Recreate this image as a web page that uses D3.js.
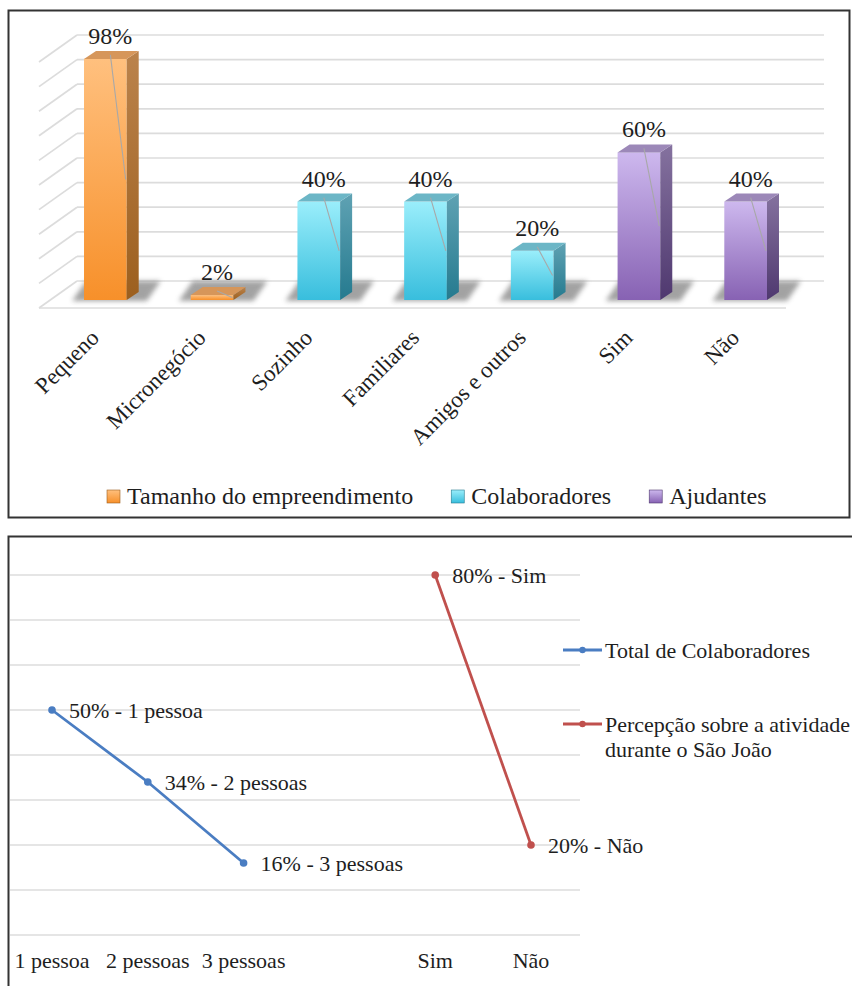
<!DOCTYPE html>
<html>
<head>
<meta charset="utf-8">
<script src="https://cdn.jsdelivr.net/npm/d3@7"></script>
<style>
body { margin: 0; background: #fff; }
svg { display: block; }
text { font-family: "Liberation Serif", "Times New Roman", "DejaVu Serif", serif; fill: #1e1e1e; }
</style>
</head>
<body>
<svg id="chart" width="852" height="986" font-family="Liberation Serif, Times New Roman, serif"></svg>
<script>

// ---- top chart data ----
var barCategories = ["Pequeno", "Micronegócio", "Sozinho", "Familiares", "Amigos e outros", "Sim", "Não"];
var barValues = [98, 2, 40, 40, 20, 60, 40];
var barSeriesOf = [0, 0, 1, 1, 1, 2, 2];
var barSeries = ["Tamanho do empreendimento", "Colaboradores", "Ajudantes"];
var barTicks = [0, 10, 20, 30, 40, 50, 60, 70, 80, 90, 100];

// ---- bottom chart data ----
var lineCategories = ["1 pessoa", "2 pessoas", "3 pessoas", " ", "Sim", "Não"];
var colabCats = ["1 pessoa", "2 pessoas", "3 pessoas"];
var colabValues = [50, 34, 16];
var colabLabels = ["50% - 1 pessoa", "34% - 2 pessoas", "16% - 3 pessoas"];
var percepCats = ["Sim", "Não"];
var percepValues = [80, 20];
var percepLabels = ["80% - Sim", "20% - Não"];
var lineSeries = ["Total de Colaboradores", "Percepção sobre a atividade|durante o São João"];
var lineTicks = [0, 10, 20, 30, 40, 50, 60, 70, 80];

var svg = d3.select("#chart");
var defs = svg.append("defs");

// colours per series: front top/bottom, side top/bottom, top face
var pal = [
  { ft: "#ffc07e", fb: "#f7902a", st: "#bb834c", sb: "#9c5f1e", tp: "#d6965a" },
  { ft: "#9aeefb", fb: "#38bedd", st: "#5fa2b3", sb: "#257a8f", tp: "#6cb6c6" },
  { ft: "#cdb8ee", fb: "#8762b3", st: "#85729f", sb: "#4f386f", tp: "#9c88b8" }
];

pal.forEach(function(p, i) {
  var g1 = defs.append("linearGradient").attr("id", "front" + i)
    .attr("x1", 0).attr("y1", 0).attr("x2", 0).attr("y2", 1);
  g1.append("stop").attr("offset", "0%").attr("stop-color", p.ft);
  g1.append("stop").attr("offset", "100%").attr("stop-color", p.fb);
  var g2 = defs.append("linearGradient").attr("id", "side" + i)
    .attr("x1", 0).attr("y1", 0).attr("x2", 0).attr("y2", 1);
  g2.append("stop").attr("offset", "0%").attr("stop-color", p.st);
  g2.append("stop").attr("offset", "100%").attr("stop-color", p.sb);
});

defs.append("filter").attr("id", "blur")
  .attr("x", "-30%").attr("y", "-60%").attr("width", "160%").attr("height", "220%")
  .append("feGaussianBlur").attr("stdDeviation", 2.5);

////
//// Top chart: 3D columns
////

var x = d3.scaleBand()
  .domain(barCategories)
  .range([52, 799])
  .paddingInner(0.6)
  .paddingOuter(0.3);

var y = d3.scaleLinear()
  .domain([0, 100])
  .range([300, 54]);

var depthX = 12, depthY = -8;      // bar depth
var wallFront = 8, wallBack = -19; // floor front / back wall relative to bar front
var wallLeftFront = 39, wallLeftBack = 77, wallRight = 824;

var topG = svg.append("g");

// back wall gridlines
topG.selectAll(".grid")
  .data(barTicks)
  .enter().append("line")
  .attr("x1", wallLeftBack)
  .attr("x2", wallRight)
  .attr("y1", function(d) { return y(d) + wallBack; })
  .attr("y2", function(d) { return y(d) + wallBack; })
  .attr("stroke", "#dcdcdc")
  .attr("stroke-width", 1.7);

// side wall diagonals
topG.selectAll(".diag")
  .data(barTicks)
  .enter().append("line")
  .attr("x1", wallLeftFront)
  .attr("x2", wallLeftBack)
  .attr("y1", function(d) { return y(d) + wallFront; })
  .attr("y2", function(d) { return y(d) + wallBack; })
  .attr("stroke", "#dcdcdc")
  .attr("stroke-width", 1.7);

// floor front edge
topG.append("line")
  .attr("x1", wallLeftFront)
  .attr("x2", wallRight - (wallLeftBack - wallLeftFront))
  .attr("y1", y(0) + wallFront)
  .attr("y2", y(0) + wallFront)
  .attr("stroke", "#dcdcdc")
  .attr("stroke-width", 1.7);

var bars = topG.selectAll(".bar")
  .data(barValues.map(function(v, i) { return { cat: barCategories[i], value: v, s: barSeriesOf[i] }; }))
  .enter().append("g");

// shadow on the floor
bars.append("polygon")
  .attr("points", function(d) {
    var x0 = x(d.cat), x1 = x0 + x.bandwidth(), b = y(0);
    return [[x0 - 12, b + 1], [x1 + 20, b + 1], [x1 + 34, b - 19], [x0 + 2, b - 19]].join(" ");
  })
  .attr("fill", "#7c7c7c")
  .attr("opacity", 0.7)
  .attr("filter", "url(#blur)");

// front face
bars.append("rect")
  .attr("x", function(d) { return x(d.cat); })
  .attr("y", function(d) { return y(d.value); })
  .attr("width", x.bandwidth())
  .attr("height", function(d) { return y(0) - y(d.value); })
  .attr("fill", function(d) { return "url(#front" + d.s + ")"; });

// side face
bars.append("polygon")
  .attr("points", function(d) {
    var x1 = x(d.cat) + x.bandwidth(), t = y(d.value), b = y(0);
    return [[x1, t], [x1 + depthX, t + depthY], [x1 + depthX, b + depthY], [x1, b]].join(" ");
  })
  .attr("fill", function(d) { return "url(#side" + d.s + ")"; });

// top face
bars.append("polygon")
  .attr("points", function(d) {
    var x0 = x(d.cat), x1 = x0 + x.bandwidth(), t = y(d.value);
    return [[x0, t], [x0 + depthX, t + depthY], [x1 + depthX, t + depthY], [x1, t]].join(" ");
  })
  .attr("fill", function(d) { return pal[d.s].tp; });

// thin label leader line across the bar
bars.append("line")
  .attr("x1", function(d) { return x(d.cat) + x.bandwidth() / 2 + 5; })
  .attr("y1", function(d) { return y(d.value) - 4; })
  .attr("x2", function(d) { return x(d.cat) + x.bandwidth() - 1; })
  .attr("y2", function(d) { return y(d.value) + (y(0) - y(d.value)) / 2; })
  .attr("stroke", "#a8a8a8")
  .attr("stroke-width", 1.1);

// value labels
bars.append("text")
  .attr("x", function(d) { return x(d.cat) + x.bandwidth() / 2 + 5; })
  .attr("y", function(d) { return y(d.value) - 15; })
  .attr("text-anchor", "middle")
  .attr("font-size", 24)
  .text(function(d) { return d.value + "%"; });

// rotated category labels
topG.selectAll(".xlab")
  .data(barCategories)
  .enter().append("text")
  .attr("transform", function(d) {
    return "translate(" + (x(d) + x.bandwidth() / 2 - 5) + ",339) rotate(-45)";
  })
  .attr("text-anchor", "end")
  .attr("font-size", 23)
  .text(function(d) { return d; });

// legend
var lx = 107;
barSeries.forEach(function(name, i) {
  var lg = topG.append("g").attr("transform", "translate(" + lx + ",490)");
  lg.append("rect")
    .attr("width", 13).attr("height", 13)
    .attr("fill", "url(#front" + i + ")")
    .attr("stroke", pal[i].sb)
    .attr("stroke-width", 0.6);
  var t = lg.append("text")
    .attr("x", 20)
    .attr("y", 14)
    .attr("font-size", 24)
    .text(name);
  lx += 20 + t.node().getComputedTextLength() + 38;
});

// frame
svg.append("rect")
  .attr("x", 8.5).attr("y", 10.5)
  .attr("width", 841).attr("height", 507)
  .attr("fill", "none")
  .attr("stroke", "#333")
  .attr("stroke-width", 2);

////
//// Bottom chart: lines
////

var xL = d3.scalePoint()
  .domain(lineCategories)
  .range([52, 531]);

var yL = d3.scaleLinear()
  .domain([0, 90])
  .range([935, 530]);

var bot = svg.append("g");

bot.selectAll(".lgrid")
  .data(lineTicks)
  .enter().append("line")
  .attr("x1", 10)
  .attr("x2", 580)
  .attr("y1", function(d) { return yL(d); })
  .attr("y2", function(d) { return yL(d); })
  .attr("stroke", "#dcdcdc")
  .attr("stroke-width", 1.7);

var lineGen = d3.line()
  .x(function(d) { return xL(d.cat); })
  .y(function(d) { return yL(d.value); });

var lineData = [
  { color: "#4a7dc2", pts: colabValues.map(function(v, i) { return { cat: colabCats[i], value: v, label: colabLabels[i] }; }) },
  { color: "#c0504d", pts: percepValues.map(function(v, i) { return { cat: percepCats[i], value: v, label: percepLabels[i] }; }) }
];

lineData.forEach(function(s) {
  bot.append("path")
    .attr("d", lineGen(s.pts))
    .attr("fill", "none")
    .attr("stroke", s.color)
    .attr("stroke-width", 2.8);

  bot.selectAll(null)
    .data(s.pts)
    .enter().append("circle")
    .attr("cx", function(d) { return xL(d.cat); })
    .attr("cy", function(d) { return yL(d.value); })
    .attr("r", 3.8)
    .attr("fill", s.color);

  bot.selectAll(null)
    .data(s.pts)
    .enter().append("text")
    .attr("x", function(d) { return xL(d.cat) + 17; })
    .attr("y", function(d) { return yL(d.value) + 8; })
    .attr("font-size", 22)
    .text(function(d) { return d.label; });
});

// category labels
bot.selectAll(".lxlab")
  .data(lineCategories)
  .enter().append("text")
  .attr("x", function(d) { return xL(d); })
  .attr("y", 968)
  .attr("text-anchor", "middle")
  .attr("font-size", 22)
  .text(function(d) { return d.trim(); });

// legend
var legY = [650, 724];
lineSeries.forEach(function(name, i) {
  var lg = bot.append("g").attr("transform", "translate(563," + legY[i] + ")");
  lg.append("line")
    .attr("x1", 0).attr("x2", 39)
    .attr("stroke", lineData[i].color)
    .attr("stroke-width", 2.8);
  lg.append("circle")
    .attr("cx", 19.5).attr("r", 3.2)
    .attr("fill", lineData[i].color);
  var t = lg.append("text")
    .attr("x", 42)
    .attr("y", 8)
    .attr("font-size", 22);
  name.split("|").forEach(function(part, k) {
    t.append("tspan")
      .attr("x", 42)
      .attr("dy", k ? 25 : 0)
      .text(part);
  });
});

svg.append("rect")
  .attr("x", 8.5).attr("y", 536.5)
  .attr("width", 900).attr("height", 500)
  .attr("fill", "none")
  .attr("stroke", "#333")
  .attr("stroke-width", 2);

</script>
</body>
</html>
